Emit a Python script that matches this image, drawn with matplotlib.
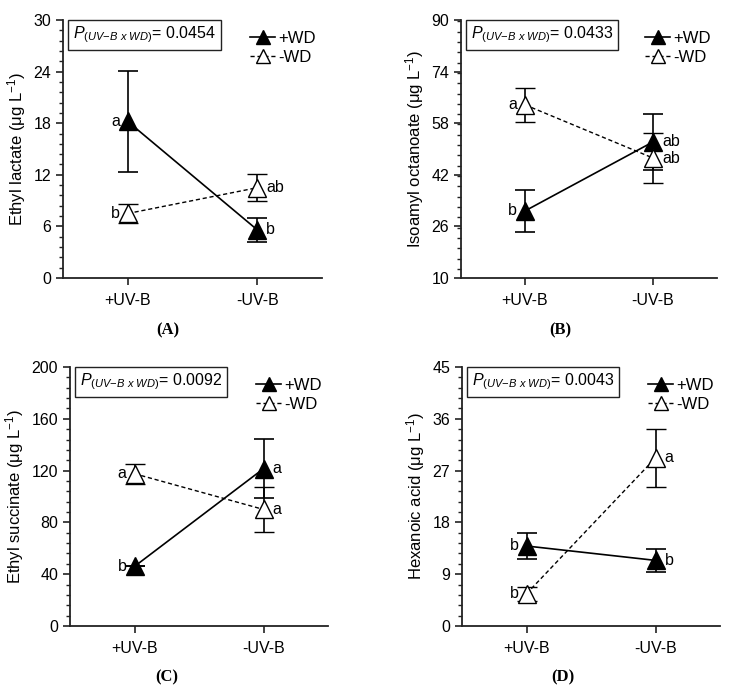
import numpy as np
import matplotlib
matplotlib.use('Agg')
import matplotlib.pyplot as plt
from matplotlib.offsetbox import AnchoredText
from matplotlib.lines import Line2D
from matplotlib.ticker import MultipleLocator

plt.rcParams['font.family'] = ['Liberation Sans', 'DejaVu Sans']
plt.rcParams['font.size'] = 11
plt.rcParams['mathtext.fontset'] = 'custom'
plt.rcParams['mathtext.rm'] = 'Liberation Sans'
plt.rcParams['mathtext.it'] = 'Liberation Sans:italic'
plt.rcParams['mathtext.default'] = 'regular'

# data
treatments = ['+UV-B', '-UV-B']

names = ['Ethyl lactate', 'Isoamyl octanoate', 'Ethyl succinate', 'Hexanoic acid']
p_values = ['0.0454', '0.0433', '0.0092', '0.0043']
panel_tags = ['A', 'B', 'C', 'D']

wd_mean = [[18.2, 5.6], [30.8, 52.2], [46.0, 121.5], [13.9, 11.4]]
wd_err = [[5.9, 1.4], [6.6, 8.6], [0.0, 23.0], [2.3, 2.0]]
nowd_mean = [[7.5, 10.5], [63.7, 47.2], [117.6, 90.0], [5.6, 29.2]]
nowd_err = [[1.1, 1.6], [5.3, 7.7], [7.7, 17.7], [1.2, 5.0]]

wd_letters = [['a', 'b'], ['b', 'ab'], ['b', 'a'], ['b', 'b']]
nowd_letters = [['b', 'ab'], ['a', 'ab'], ['a', 'a'], ['b', 'a']]

y_lims = [(0, 30), (10, 90), (0, 200), (0, 45)]
y_steps = [6, 16, 40, 9]

W, H = 735, 690
fig = plt.figure(figsize=(W / 100, H / 100), dpi=100)

# axes boxes in pixels: left, top, right, bottom
boxes = [(63, 20, 322, 278), (461, 20, 717, 278),
         (70, 367, 328, 626), (462, 367, 720, 626)]
tag_pos = [(168, 330), (560, 330), (167, 677), (563, 677)]

spine_col = '#222222'
x = np.arange(1, 3)
dash = (0, (3, 2))

for i in range(4):
    l, t, r, b = boxes[i]
    ax = fig.add_axes([l / W, 1 - b / H, (r - l) / W, (b - t) / H])
    for s in ['top', 'right']:
        ax.spines[s].set_visible(False)
    for s in ['left', 'bottom']:
        ax.spines[s].set_linewidth(1.3)
        ax.spines[s].set_color(spine_col)

    ax.errorbar(x, wd_mean[i], yerr=wd_err[i], color='black', lw=1.2,
                marker='^', ms=13, mfc='black', mec='black',
                capsize=7, capthick=1.2, elinewidth=1.2, ls='-', zorder=3)
    ax.errorbar(x, nowd_mean[i], yerr=nowd_err[i], color='black', lw=1.0,
                marker='^', ms=13, mfc='white', mec='black', mew=1.0,
                capsize=7, capthick=1.2, elinewidth=1.2, ls=dash, zorder=4)

    for j in range(2):
        dx, ha = (-8, 'right') if j == 0 else (9, 'left')
        ax.annotate(wd_letters[i][j], (x[j], wd_mean[i][j]),
                    xytext=(dx, 0), textcoords='offset pixels',
                    ha=ha, va='center', fontsize=11.5)
        ax.annotate(nowd_letters[i][j], (x[j], nowd_mean[i][j]),
                    xytext=(dx, 0), textcoords='offset pixels',
                    ha=ha, va='center', fontsize=11.5)

    ax.set_xlim(0.5, 2.5)
    ax.set_xticks(x)
    ax.set_xticklabels(treatments)
    lo, hi = y_lims[i]
    ax.set_ylim(lo, hi)
    ax.set_yticks(np.arange(lo, hi + 0.1, y_steps[i]))
    ax.yaxis.set_minor_locator(MultipleLocator(y_steps[i] / 5))
    ax.tick_params(which='major', length=5, width=1.2, color=spine_col, labelsize=11.5)
    ax.tick_params(which='minor', length=3, width=1.0, color=spine_col)
    ax.tick_params(axis='x', pad=6)
    ax.set_ylabel(names[i] + r' ($\mu$g L$^{-1}$)', fontsize=12, labelpad=4)

    at = AnchoredText(r'$\mathit{P}_{\mathit{(UV{-}B\ x\ WD)}}$= ' + p_values[i],
                      loc='upper left', frameon=True, borderpad=0, pad=0.3,
                      bbox_to_anchor=(5 / (r - l), 1.0),
                      bbox_transform=ax.transAxes,
                      prop=dict(fontsize=11.5))
    at.patch.set_linewidth(1.0)
    at.patch.set_edgecolor(spine_col)
    ax.add_artist(at)

    handles = [Line2D([], [], color='black', lw=1.2, marker='^', ms=10,
                      mfc='black', mec='black'),
               Line2D([], [], color='black', lw=1.0, ls=dash, marker='^', ms=10,
                      mfc='white', mec='black')]
    ax.legend(handles, ['+WD', '-WD'], loc='upper right',
              bbox_to_anchor=(1.0, 0.985), frameon=False, borderaxespad=0,
              handlelength=1.5, handletextpad=0.15, labelspacing=0.25,
              fontsize=12)

    tx, ty = tag_pos[i]
    fig.text(tx / W, 1 - ty / H, '(' + panel_tags[i] + ')',
             family='Liberation Serif', fontweight='bold', fontsize=12,
             ha='center', va='center')

fig.savefig('out.png', dpi=100, facecolor='white')
